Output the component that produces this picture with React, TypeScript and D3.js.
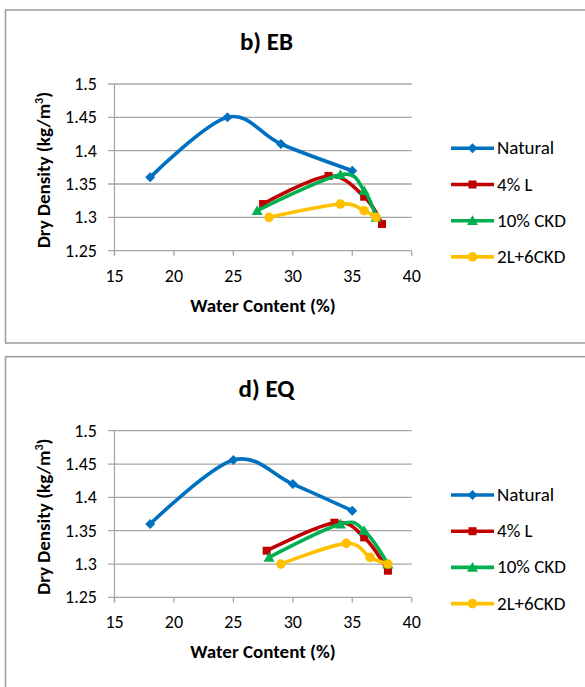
import * as d3 from "d3";
import React from "react";

// series names and styles
const seriesNames = ["Natural", "4% L", "10% CKD", "2L+6CKD"];
const seriesColors = ["#0070C0", "#C00000", "#00B050", "#FFC000"];
const seriesMarkers = ["diamond", "square", "triangle", "circle"];

const xTicks = [15, 20, 25, 30, 35, 40];
const yTicks = [1.25, 1.3, 1.35, 1.4, 1.45, 1.5];

// b) EB
const ebNaturalX = [18, 24.5, 29, 35];
const ebNaturalY = [1.36, 1.45, 1.41, 1.37];
const eb4LX = [27.5, 33, 36, 37.5];
const eb4LY = [1.32, 1.362, 1.331, 1.29];
const eb10CkdX = [27, 34, 36, 37];
const eb10CkdY = [1.31, 1.364, 1.34, 1.3];
const eb2L6CkdX = [28, 34, 36, 37];
const eb2L6CkdY = [1.3, 1.32, 1.31, 1.3];

// d) EQ
const eqNaturalX = [18, 25, 30, 35];
const eqNaturalY = [1.36, 1.456, 1.42, 1.38];
const eq4LX = [27.8, 33.5, 36, 38];
const eq4LY = [1.32, 1.362, 1.34, 1.29];
const eq10CkdX = [28, 34, 36, 38];
const eq10CkdY = [1.31, 1.36, 1.35, 1.3];
const eq2L6CkdX = [29, 34.5, 36.5, 38];
const eq2L6CkdY = [1.3, 1.331, 1.31, 1.3];

const FONT = "Carlito, Lato, 'Open Sans', sans-serif";

type Pt = [number, number];

function zip(xs: number[], ys: number[]): Pt[] {
  return xs.map((x, i) => [x, ys[i]]);
}

function Marker({ kind, x, y, color }: { kind: string; x: number; y: number; color: string }) {
  if (kind === "diamond") {
    const s = 5;
    return <path d={`M${x},${y - s}L${x + s},${y}L${x},${y + s}L${x - s},${y}Z`} fill={color} />;
  }
  if (kind === "square") {
    return <rect x={x - 4} y={y - 4} width={8} height={8} fill={color} />;
  }
  if (kind === "triangle") {
    const s = 5.5;
    return <path d={`M${x},${y - s}L${x + s},${y + s * 0.8}L${x - s},${y + s * 0.8}Z`} fill={color} />;
  }
  return <circle cx={x} cy={y} r={4.8} fill={color} />;
}

function Panel({ title, top, boxH, series }: { title: string; top: number; boxH: number; series: Pt[][] }) {
  const x = d3.scaleLinear().domain([15, 40]).range([114.5, 411.7]);
  const y = d3.scaleLinear().domain([1.25, 1.5]).range([top + 166.7, top]);
  const line = d3
    .line<Pt>()
    .x((d) => x(d[0]))
    .y((d) => y(d[1]))
    .curve(d3.curveCardinal.tension(0));

  const boxTop = top - 74;
  const legendTop = top + 64.3;

  return (
    <g>
      <rect x={5.5} y={boxTop} width={600} height={boxH} fill="#fff" stroke="#a0a0a0" strokeWidth={1.6} />
      <text x={266.5} y={boxTop + 40} textAnchor="middle" fontFamily={FONT} fontWeight="bold" fontSize={25}>
        {title}
      </text>

      {yTicks.map((t) => (
        <g key={t}>
          <line x1={108} x2={411.7} y1={y(t)} y2={y(t)} stroke="#a6a6a6" strokeWidth={1.3} />
          <text x={97} y={y(t) + 6} textAnchor="end" fontFamily={FONT} fontSize={18}>
            {t}
          </text>
        </g>
      ))}
      <line x1={x(15)} x2={x(15)} y1={y(1.5)} y2={y(1.25) + 5} stroke="#a6a6a6" strokeWidth={1.3} />
      {xTicks.map((t) => (
        <g key={t}>
          <line x1={x(t)} x2={x(t)} y1={y(1.25)} y2={y(1.25) + 5} stroke="#a6a6a6" strokeWidth={1.3} />
          <text x={x(t)} y={y(1.25) + 31} textAnchor="middle" fontFamily={FONT} fontSize={18}>
            {t}
          </text>
        </g>
      ))}

      <text x={263} y={y(1.25) + 61} textAnchor="middle" fontFamily={FONT} fontWeight="bold" fontSize={19}>
        Water Content (%)
      </text>
      <text
        transform={`translate(50,${top + 86}) rotate(-90)`}
        textAnchor="middle"
        fontFamily={FONT}
        fontWeight="bold"
        fontSize={19}
      >
        Dry Density (kg/m<tspan dy={-7} fontSize={12}>3</tspan>
        <tspan dy={7}>)</tspan>
      </text>

      {series.map((pts, i) => (
        <g key={seriesNames[i]}>
          <path d={line(pts) ?? ""} fill="none" stroke={seriesColors[i]} strokeWidth={3.6} strokeLinejoin="round" />
          {pts.map((p, j) => (
            <Marker key={j} kind={seriesMarkers[i]} x={x(p[0])} y={y(p[1])} color={seriesColors[i]} />
          ))}
        </g>
      ))}

      {seriesNames.map((name, i) => {
        const ly = legendTop + i * 36.2;
        return (
          <g key={name}>
            <line x1={451} x2={494} y1={ly} y2={ly} stroke={seriesColors[i]} strokeWidth={3.6} />
            <Marker kind={seriesMarkers[i]} x={472.5} y={ly} color={seriesColors[i]} />
            <text x={497} y={ly + 6} fontFamily={FONT} fontSize={19}>
              {name}
            </text>
          </g>
        );
      })}
    </g>
  );
}

export default function App() {
  const eb: Pt[][] = [
    zip(ebNaturalX, ebNaturalY),
    zip(eb4LX, eb4LY),
    zip(eb10CkdX, eb10CkdY),
    zip(eb2L6CkdX, eb2L6CkdY),
  ];
  const eq: Pt[][] = [
    zip(eqNaturalX, eqNaturalY),
    zip(eq4LX, eq4LY),
    zip(eq10CkdX, eq10CkdY),
    zip(eq2L6CkdX, eq2L6CkdY),
  ];
  return (
    <svg width={585} height={687} style={{ position: "absolute", left: 0, top: 0, background: "#fff" }}>
      <Panel title="b) EB" top={84} boxH={333} series={eb} />
      <Panel title="d) EQ" top={430.7} boxH={400} series={eq} />
    </svg>
  );
}
